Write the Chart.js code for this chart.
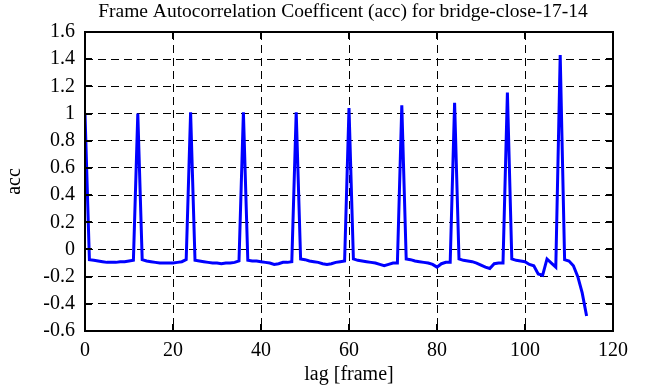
<!DOCTYPE html>
<html>
<head>
<meta charset="utf-8">
<script src="https://cdn.jsdelivr.net/npm/chart.js@4/dist/chart.umd.min.js"></script>
<style>
  html, body { margin: 0; padding: 0; background: #fff; }
  #wrap { width: 666px; height: 387px; }
</style>
</head>
<body>
<div id="wrap"><canvas id="c" width="666" height="387"></canvas></div>
<script>
const chartTitle = "Frame Autocorrelation Coefficent (acc) for bridge-close-17-14";
const xLabel = "lag [frame]";
const yLabel = "acc";

const lags = [];
for (let i = 0; i <= 114; i++) lags.push(i);

const acc = [
  1.00, -0.075, -0.08, -0.085, -0.09, -0.095, -0.095, -0.095, -0.09, -0.09, -0.085, -0.08,
  1.00, -0.075, -0.085, -0.09, -0.095, -0.10, -0.10, -0.10, -0.10, -0.095, -0.09, -0.075,
  1.01, -0.08, -0.085, -0.09, -0.095, -0.10, -0.10, -0.105, -0.10, -0.10, -0.095, -0.085,
  1.01, -0.08, -0.085, -0.085, -0.09, -0.095, -0.10, -0.11, -0.105, -0.095, -0.095, -0.09,
  1.01, -0.07, -0.075, -0.085, -0.09, -0.095, -0.105, -0.11, -0.105, -0.095, -0.09, -0.085,
  1.04, -0.07, -0.08, -0.085, -0.09, -0.095, -0.10, -0.11, -0.12, -0.11, -0.10, -0.10,
  1.06, -0.07, -0.075, -0.085, -0.09, -0.095, -0.10, -0.11, -0.13, -0.105, -0.095, -0.095,
  1.08, -0.07, -0.08, -0.085, -0.09, -0.10, -0.115, -0.13, -0.14, -0.105, -0.10, -0.10,
  1.155, -0.07, -0.08, -0.085, -0.09, -0.11, -0.12, -0.18, -0.19, -0.07, -0.10, -0.13,
  1.43, -0.075, -0.085, -0.12, -0.20, -0.32, -0.49
];

const xRange = [0, 120];
const xStep = 20;
const yRange = [-0.6, 1.6];
const yStep = 0.2;

const FONT = "'Liberation Serif', 'Times New Roman', serif";

const framePlugin = {
  id: 'frame',
  afterDraw(chart) {
    const {ctx, chartArea: a, scales} = chart;
    ctx.save();
    ctx.strokeStyle = '#000';
    ctx.lineWidth = 2;
    const tl = 7;
    ctx.beginPath();
    scales.x.ticks.forEach(t => {
      const px = Math.round(scales.x.getPixelForValue(t.value));
      ctx.moveTo(px, a.bottom); ctx.lineTo(px, a.bottom - tl);
      ctx.moveTo(px, a.top); ctx.lineTo(px, a.top + tl);
    });
    scales.y.ticks.forEach(t => {
      const py = Math.round(scales.y.getPixelForValue(t.value));
      ctx.moveTo(a.left, py); ctx.lineTo(a.left + tl, py);
      ctx.moveTo(a.right, py); ctx.lineTo(a.right - tl, py);
    });
    ctx.stroke();
    ctx.lineWidth = 2;
    ctx.strokeRect(a.left, a.top, a.right - a.left, a.bottom - a.top);
    ctx.fillStyle = '#000';
    ctx.font = "19.5px " + FONT;
    ctx.textAlign = 'center';
    ctx.textBaseline = 'middle';
    ctx.fillText(chartTitle, (a.left + a.right) / 2 - 6, 12);
    ctx.restore();
  }
};

new Chart(document.getElementById('c'), {
  type: 'line',
  data: {
    labels: lags,
    datasets: [{
      data: lags.map((l, i) => ({x: l, y: acc[i]})),
      borderColor: '#0000ff',
      borderWidth: 3,
      pointRadius: 0,
      tension: 0,
      fill: false
    }]
  },
  options: {
    responsive: false,
    animation: false,
    layout: { padding: { top: 32, left: 0, right: 53, bottom: 0 } },
    plugins: {
      legend: { display: false },
      title: { display: false },
      tooltip: { enabled: false }
    },
    scales: {
      x: {
        type: 'linear',
        min: xRange[0], max: xRange[1],
        ticks: { stepSize: xStep, color: '#000', font: { family: FONT, size: 20 }, padding: 8, maxRotation: 0 },
        grid: { color: '#000', lineWidth: 1, drawTicks: false },
        border: { display: false, dash: [8, 5] },
        title: { display: true, text: xLabel, color: '#000', font: { family: FONT, size: 20 }, padding: { top: 0, bottom: 0 } },
        afterFit(s) { s.height = 56; }
      },
      y: {
        type: 'linear',
        min: yRange[0], max: yRange[1],
        ticks: {
          stepSize: yStep, color: '#000', font: { family: FONT, size: 20 }, padding: 10,
          callback: v => String(Number(v.toFixed(1)))
        },
        grid: { color: '#000', lineWidth: 1, drawTicks: false },
        border: { display: false, dash: [8, 5] },
        title: { display: true, text: yLabel, color: '#000', font: { family: FONT, size: 20 }, padding: { top: 3, bottom: 0 } },
        afterFit(s) { s.width = 85; }
      }
    }
  },
  plugins: [framePlugin]
});
</script>
</body>
</html>
